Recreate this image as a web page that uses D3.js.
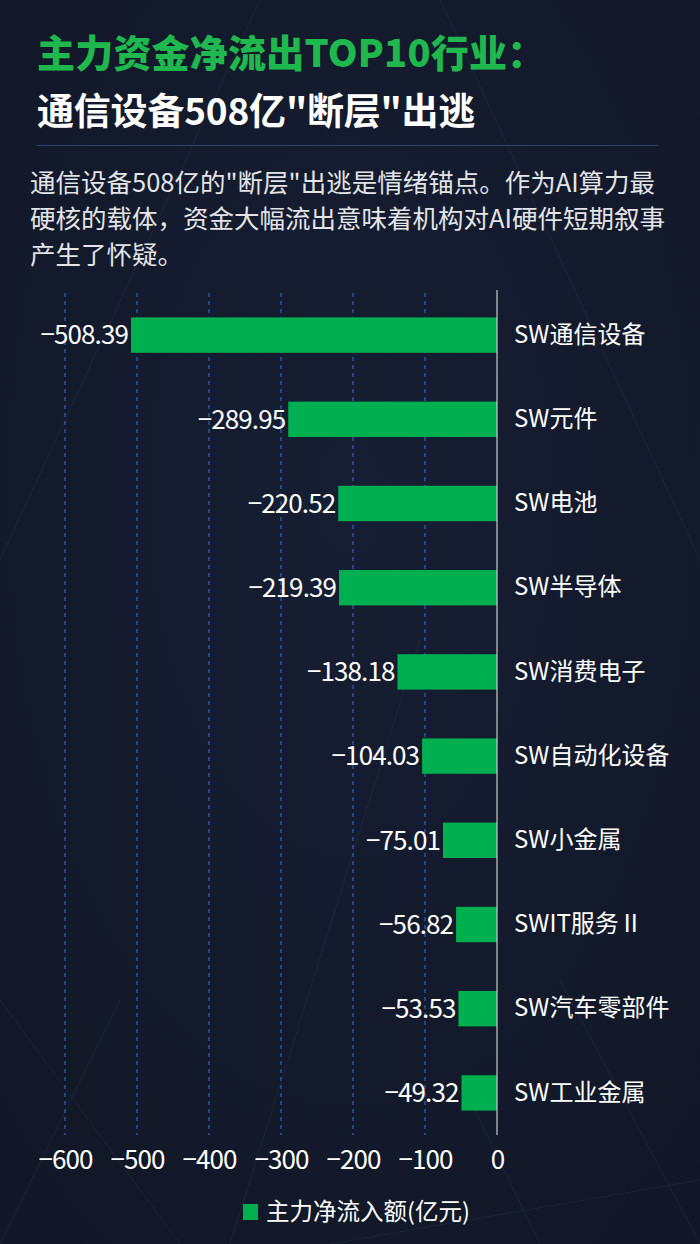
<!DOCTYPE html>
<html>
<head>
<meta charset="utf-8">
<script src="https://cdn.jsdelivr.net/npm/d3@7"></script>
<style>
  html, body { margin: 0; padding: 0; background: #131a2a; }
  svg { display: block; }
</style>
</head>
<body>
<svg id="chart" width="700" height="1244"></svg>
<script>
// data
const industries = ['SW通信设备', 'SW元件', 'SW电池', 'SW半导体', 'SW消费电子',
    'SW自动化设备', 'SW小金属', 'SWIT服务Ⅱ', 'SW汽车零部件', 'SW工业金属'];
const netFlow = [-508.39, -289.95, -220.52, -219.39, -138.18, -104.03, -75.01, -56.82, -53.53, -49.32];
const xTicks = [-600, -500, -400, -300, -200, -100, 0];

const titleLine1 = '主力资金净流出TOP10行业：';
const titleLine2 = '通信设备508亿"断层"出逃';
const noteLines = [
    '通信设备508亿的"断层"出逃是情绪锚点。作为AI算力最',
    '硬核的载体，资金大幅流出意味着机构对AI硬件短期叙事',
    '产生了怀疑。'
];
const legendLabel = '主力净流入额(亿元)';

const font = '"Noto Sans CJK SC", "Noto Sans", sans-serif';
const green = '#00b050';

const svg = d3.select('#chart');

// background
const defs = svg.append('defs');
const bg = defs.append('radialGradient').attr('id', 'bg').attr('cx', '50%').attr('cy', '40%').attr('r', '75%');
bg.append('stop').attr('offset', '0%').attr('stop-color', '#161e33');
bg.append('stop').attr('offset', '100%').attr('stop-color', '#111726');
svg.append('rect').attr('width', 700).attr('height', 1244).attr('fill', 'url(#bg)');

// faint perspective lines in the background
const deco = svg.append('g').attr('stroke', '#2a3550').attr('stroke-width', 1).attr('opacity', 0.4);
[[0, 560, 260, 0], [0, 1244, 120, 1000], [0, 1000, 180, 1244], [230, 1244, 420, 640],
 [700, 560, 440, 0], [700, 1244, 560, 980], [540, 1244, 470, 1100], [700, 1180, 330, 1244]]
    .forEach(l => deco.append('line').attr('x1', l[0]).attr('y1', l[1]).attr('x2', l[2]).attr('y2', l[3]));

// titles
svg.append('text').attr('x', 37).attr('y', 67)
    .attr('font-family', font).attr('font-size', 38).attr('font-weight', 900)
    .attr('fill', '#1fb84e').attr('letter-spacing', 0.2).text(titleLine1);
svg.append('text').attr('x', 37).attr('y', 125)
    .attr('font-family', font).attr('font-size', 37).attr('font-weight', 700)
    .attr('fill', '#ffffff').attr('letter-spacing', -0.2).text(titleLine2);
svg.append('line').attr('x1', 37).attr('x2', 658).attr('y1', 145.5).attr('y2', 145.5)
    .attr('stroke', '#2e4470').attr('stroke-width', 1);

svg.append('g').selectAll('text').data(noteLines).join('text')
    .attr('x', 30).attr('y', (d, i) => 192 + i * 36)
    .attr('font-family', font).attr('font-size', 25.5)
    .attr('fill', '#e2e4e8').text(d => d);

// chart
const margin = { top: 293, right: 203, bottom: 109, left: 65 };
const x = d3.scaleLinear().domain([-600, 0]).range([margin.left, 700 - margin.right]);
const y = d3.scaleBand().domain(industries)
    .range([margin.top, 1244 - margin.bottom]).paddingInner(0.58).paddingOuter(0.29);

// grid
svg.append('g').selectAll('line').data(xTicks.filter(t => t !== 0)).join('line')
    .attr('x1', d => x(d)).attr('x2', d => x(d))
    .attr('y1', margin.top).attr('y2', 1244 - margin.bottom)
    .attr('stroke', '#3a6fd0').attr('stroke-width', 1).attr('stroke-dasharray', '4,4');

// bars
svg.append('g').selectAll('rect').data(netFlow).join('rect')
    .attr('x', d => x(d))
    .attr('y', (d, i) => y(industries[i]))
    .attr('width', d => x(0) - x(d))
    .attr('height', y.bandwidth())
    .attr('fill', green);

// zero axis line
svg.append('line').attr('x1', x(0)).attr('x2', x(0))
    .attr('y1', margin.top - 3).attr('y2', 1244 - margin.bottom)
    .attr('stroke', '#c8ccd4').attr('stroke-width', 1.2);

const fmt = d => d.toFixed(2).replace('-', '−');

// value labels
svg.append('g').selectAll('text').data(netFlow).join('text')
    .attr('x', d => x(d) - 3)
    .attr('y', (d, i) => y(industries[i]) + y.bandwidth() / 2)
    .attr('dy', '0.36em').attr('text-anchor', 'end')
    .attr('font-family', font).attr('font-size', 26).attr('letter-spacing', -0.9)
    .attr('fill', '#ffffff').text(fmt);

// category labels
const yAxis = svg.append('g')
    .attr('transform', `translate(${x(0)},0)`)
    .call(d3.axisRight(y).tickSize(0).tickPadding(17));
yAxis.select('.domain').remove();
yAxis.selectAll('text')
    .attr('font-family', font).attr('font-size', 24).attr('fill', '#ffffff');

// x axis
const xAxis = svg.append('g')
    .attr('transform', `translate(0,${1244 - margin.bottom})`)
    .call(d3.axisBottom(x).tickValues(xTicks).tickSize(0).tickPadding(16)
        .tickFormat(d => d === 0 ? '0' : String(d).replace('-', '−')));
xAxis.select('.domain').remove();
xAxis.selectAll('text')
    .attr('font-family', font).attr('font-size', 26).attr('letter-spacing', -0.9).attr('fill', '#ffffff');

// legend
const legend = svg.append('g').attr('transform', 'translate(243,1212)');
legend.append('rect').attr('x', 0).attr('y', -8).attr('width', 15).attr('height', 16).attr('fill', green);
legend.append('text').attr('x', 23).attr('y', 0).attr('dy', '0.36em')
    .attr('font-family', font).attr('font-size', 23.5).attr('fill', '#ffffff').text(legendLabel);
</script>
</body>
</html>
